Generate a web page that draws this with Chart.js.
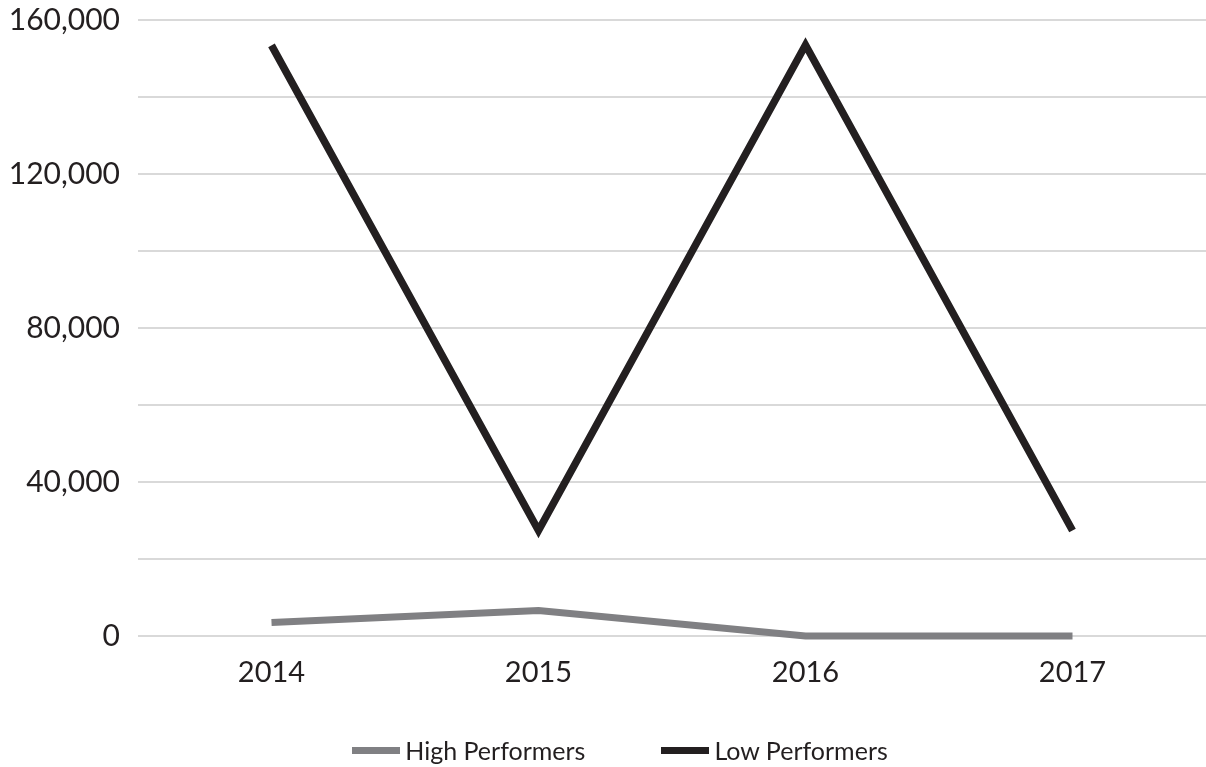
<!DOCTYPE html>
<html>
<head>
<meta charset="utf-8">
<script src="https://cdn.jsdelivr.net/npm/chart.js@4"></script>
<style>
  html, body { margin: 0; padding: 0; background: #ffffff; }
  #wrap { position: relative; width: 1206px; height: 767px; }
  #legend { position: absolute; left: 34px; top: 735px; width: 1172px; height: 30px;
            display: flex; justify-content: center; align-items: center;
            font-family: Lato, "Open Sans", sans-serif; font-size: 25px; color: #231f20; }
  .item { display: flex; align-items: center; margin: 0 38px; }
  .sw { width: 48px; height: 7px; margin-right: 5px; }
</style>
</head>
<body>
<div id="wrap">
  <canvas id="c" width="1206" height="767"></canvas>
  <div id="legend"></div>
</div>
<script>
const categories = ["2014", "2015", "2016", "2017"];
const highPerformers = [3500, 6600, 0, 0];
const lowPerformers = [153400, 27400, 153500, 27400];
const seriesNames = ["High Performers", "Low Performers"];
const seriesColors = ["#808083", "#231f20"];
const yTickLabels = [0, 40000, 80000, 120000, 160000];

const FONT = 'Lato, "Open Sans", sans-serif';
const TEXT = '#231f20';

const chart = new Chart(document.getElementById('c'), {
  type: 'line',
  data: {
    labels: categories,
    datasets: [
      { label: seriesNames[0], data: highPerformers, borderColor: seriesColors[0], backgroundColor: seriesColors[0],
        borderWidth: 7, pointRadius: 0, tension: 0, borderJoinStyle: 'miter', borderCapStyle: 'butt', clip: false },
      { label: seriesNames[1], data: lowPerformers, borderColor: seriesColors[1], backgroundColor: seriesColors[1],
        borderWidth: 7.5, pointRadius: 0, tension: 0, borderJoinStyle: 'miter', borderCapStyle: 'butt', clip: false }
    ]
  },
  options: {
    responsive: false,
    animation: false,
    layout: { padding: { top: 20, right: 0, bottom: 0, left: 0 } },
    plugins: { legend: { display: false }, tooltip: { enabled: false } },
    scales: {
      x: {
        offset: true,
        grid: { display: false, drawTicks: false },
        border: { display: false },
        ticks: { color: TEXT, font: { family: FONT, size: 29 }, padding: 19 },
        afterFit: (s) => { s.height = 131; }
      },
      y: {
        min: 0, max: 160000,
        grid: { color: '#d9d9d9', lineWidth: 2, drawTicks: false },
        border: { display: false },
        ticks: {
          stepSize: 20000,
          color: TEXT,
          font: { family: FONT, size: 30 },
          padding: 18,
          callback: (v) => yTickLabels.includes(v) ? v.toLocaleString('en-US') : ''
        },
        afterFit: (s) => { s.width = 138; s.paddingTop = 0; s.paddingBottom = 0; }
      }
    }
  }
});

const lg = document.getElementById('legend');
chart.data.datasets.forEach((ds) => {
  const it = document.createElement('div');
  it.className = 'item';
  const sw = document.createElement('div');
  sw.className = 'sw';
  sw.style.background = ds.borderColor;
  const tx = document.createElement('span');
  tx.textContent = ds.label;
  it.appendChild(sw); it.appendChild(tx);
  lg.appendChild(it);
});
</script>
</body>
</html>
